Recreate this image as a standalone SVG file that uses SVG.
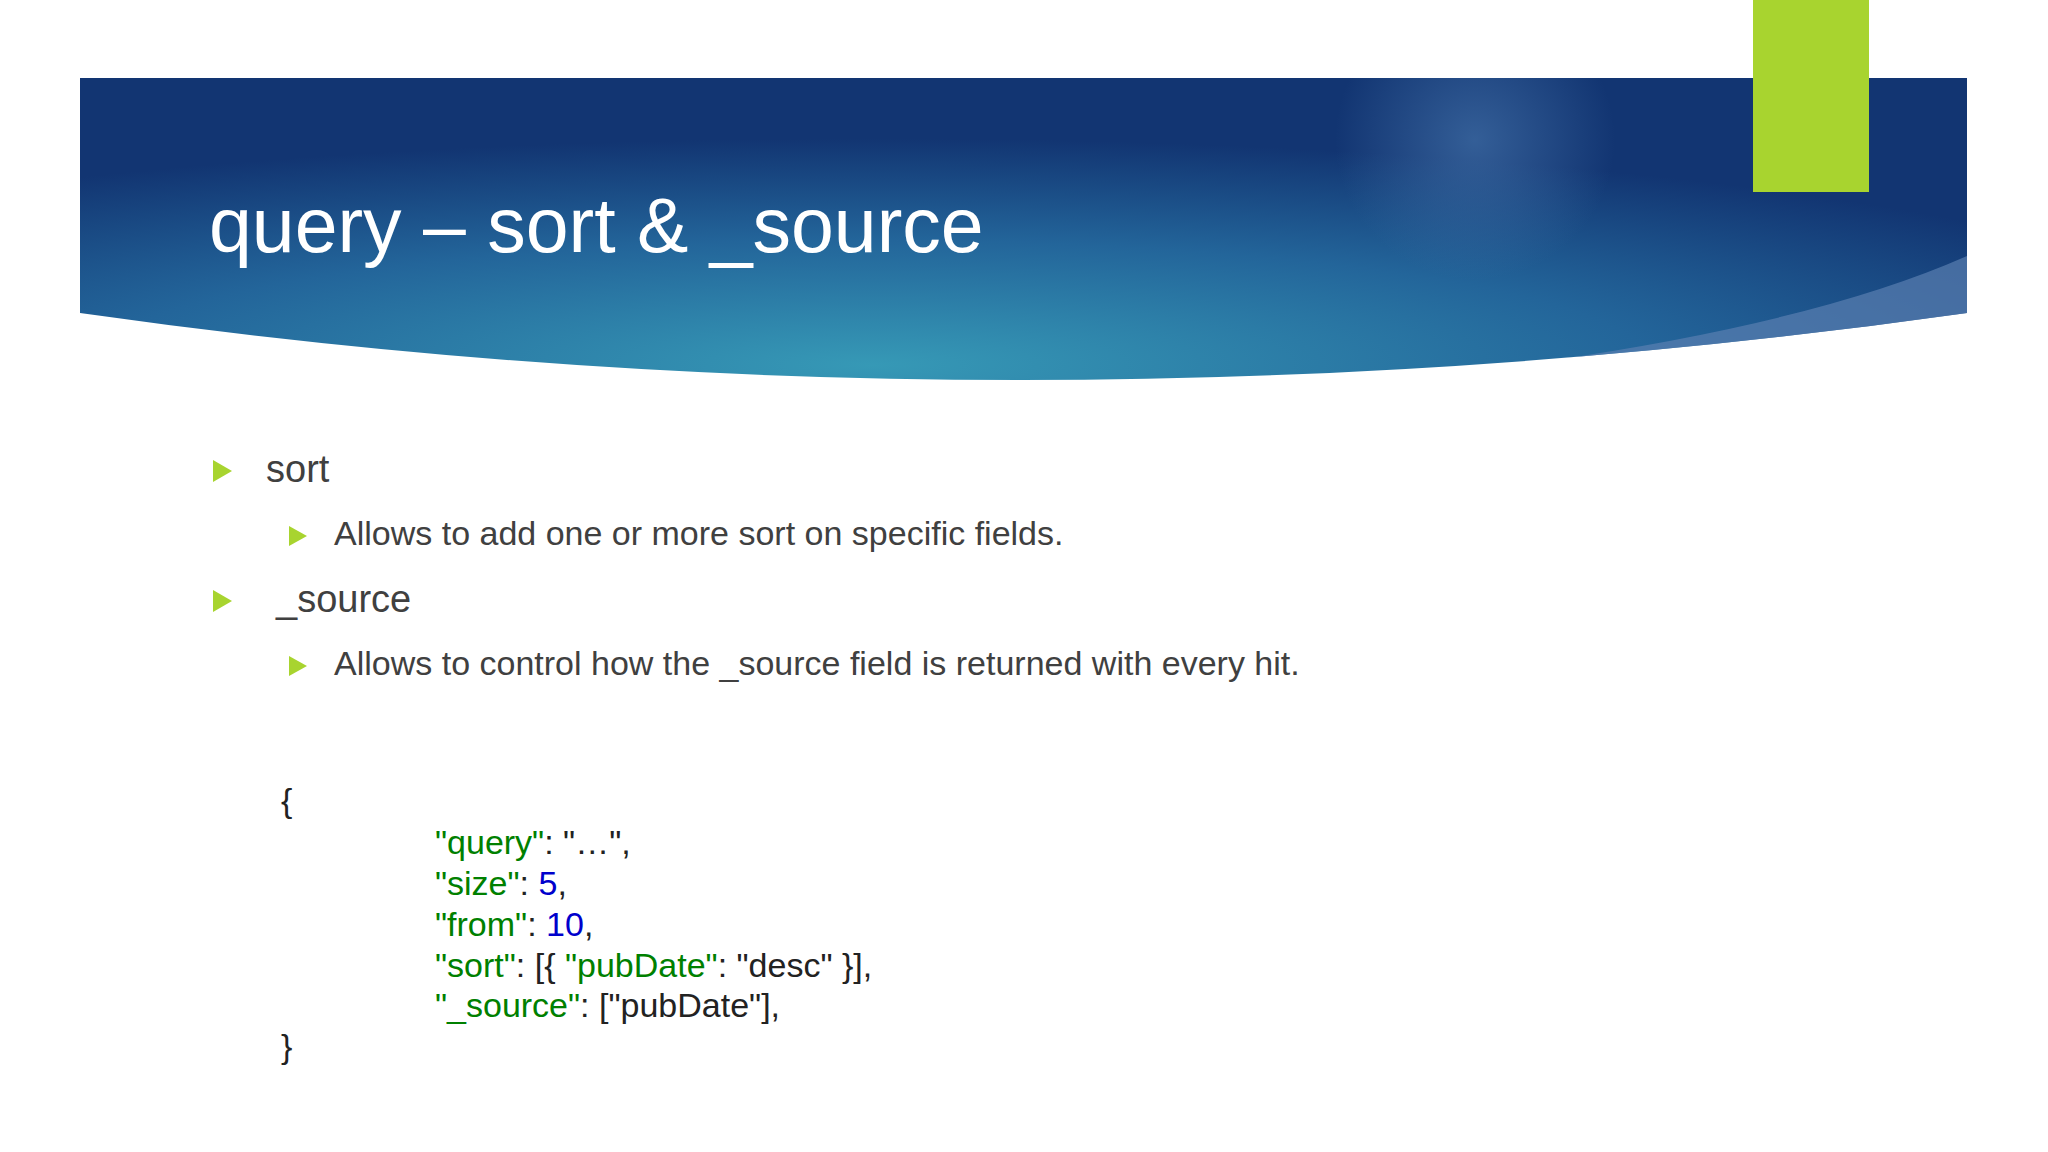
<svg xmlns="http://www.w3.org/2000/svg" width="2048" height="1152" viewBox="0 0 2048 1152">
<defs>
<radialGradient id="hg" cx="0.42" cy="0.95" r="0.75">
<stop offset="0" stop-color="#3699b6"/>
<stop offset="0.55" stop-color="#23659a"/>
<stop offset="1" stop-color="#123572"/>
</radialGradient>
<radialGradient id="glow" cx="0.5" cy="0.5" r="0.5">
<stop offset="0" stop-color="#4a7ab0" stop-opacity="0.6"/>
<stop offset="1" stop-color="#4a7ab0" stop-opacity="0"/>
</radialGradient>
<clipPath id="hc"><path d="M80 78 H1967 V313 Q1020 447 80 313 Z"/></clipPath>
<style>
.t{font-family:"Liberation Sans",Arial,sans-serif;fill:#404040}
.k{fill:#008000}.n{fill:#0000cc}
.b{fill:#a8d42f}
</style>
</defs>
<rect width="2048" height="1152" fill="#ffffff"/>
<g id="header">
<path d="M80 78 H1967 V313 Q1020 447 80 313 Z" fill="url(#hg)"/>
<g clip-path="url(#hc)">
<circle cx="1475" cy="140" r="140" fill="url(#glow)"/>
<path d="M1480 370 Q1800 330 1967 256 V320 Q1700 360 1480 370 Z" fill="#5a7fb0" opacity="0.7"/>
</g>
</g>
<rect id="accent" x="1753" y="0" width="116" height="192" fill="#a8d42f"/>
<text class="t" x="209" y="252" font-size="77" style="fill:#ffffff">query – sort &amp; _source</text>
<g id="bullets">
<polygon class="b" points="213,460 232,471 213,482"/>
<text class="t" x="266" y="482" font-size="38">sort</text>
<polygon class="b" points="289,526 307,536 289,546"/>
<text class="t" x="334" y="545" font-size="34">Allows to add one or more sort on specific fields.</text>
<polygon class="b" points="213,590 232,601 213,612"/>
<text class="t" x="276" y="612" font-size="38">_source</text>
<polygon class="b" points="289,656 307,666 289,676"/>
<text class="t" x="334" y="675" font-size="34">Allows to control how the _source field is returned with every hit.</text>
</g>
<g id="code" class="t" font-size="34" style="fill:#222">
<text x="281" y="812">{</text>
<text x="435" y="854"><tspan class="k">"query"</tspan>: "…",</text>
<text x="435" y="895"><tspan class="k">"size"</tspan>: <tspan class="n">5</tspan>,</text>
<text x="435" y="936"><tspan class="k">"from"</tspan>: <tspan class="n">10</tspan>,</text>
<text x="435" y="977"><tspan class="k">"sort"</tspan>: [{ <tspan class="k">"pubDate"</tspan>: "desc" }],</text>
<text x="435" y="1017"><tspan class="k">"_source"</tspan>: ["pubDate"],</text>
<text x="281" y="1058">}</text>
</g>
</svg>
